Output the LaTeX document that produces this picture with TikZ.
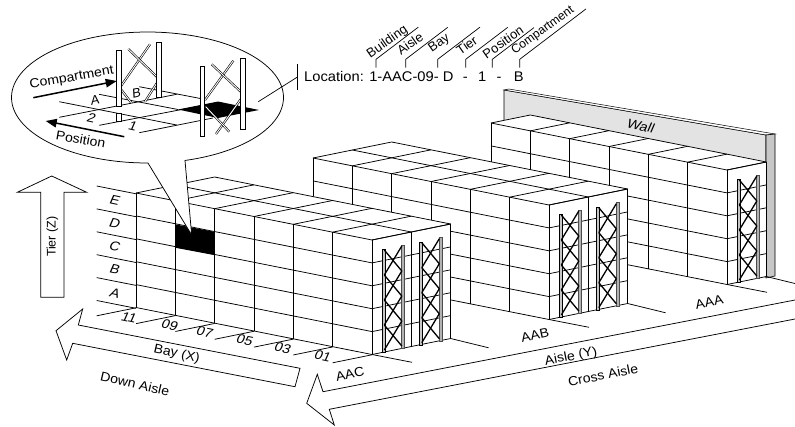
\documentclass[tikz,border=0pt]{standalone}
\usepackage{fontspec}
\setmainfont{Liberation Sans}
\usetikzlibrary{arrows.meta}
\newcommand\fs[1]{\fontsize{#1}{#1}\selectfont}
\tikzset{
  ln/.style={line width=0.75pt,black},
  lbl/.style={inner sep=0pt,font=\fs{13}},
  lean/.style={inner sep=0pt,font=\fs{13},rotate=-12,xslant=.2,xscale=1.1},
  ground/.style={inner sep=0pt,font=\fs{13},rotate=#1,xscale=1.08},
  brace/.style={line width=1.3pt,black},
  dbl/.style={line width=0.6pt,double=white,double distance=0.9pt},
  uprightL/.style={fill=gray!45,draw=black,line width=0.4pt},
  uprightR/.style={fill=gray!60,draw=black!70,line width=0.3pt},
  bigarrow/.style={draw=black,line width=0.75pt,fill=white,line join=miter},
  thickarrow/.style={line width=1.5pt,-{Triangle[length=11pt,width=8.5pt]}},
  post/.style={fill=white,draw=black,line width=0.6pt},
  hook/.style={line width=0.7pt},
}
% block of racks: offset x, offset y, depth
\newcommand\rackblock[3]{%
\begin{scope}[shift={(#1,#2)}]
  \fill[white] (136,193)--(136,308)--(372,354.5)--({372+39.33*#3},{354.5-8*#3})--({372+39.33*#3},{240-8*#3})--({136+39.33*#3},{193-8*#3})--cycle;
  \foreach \k in {0,...,5}{
    \draw[ln] (136,{193+22.9*\k})--(372,{240+22.9*\k});
    \draw[ln] (372,{240+22.9*\k})--({372+39.33*#3},{240+22.9*\k-8*#3});
  }
  \foreach \i in {0,...,6}{
    \draw[ln] ({136+39.33*\i},{193+7.83*\i})--({136+39.33*\i},{307.5+7.83*\i});
    \draw[ln] ({136+39.33*\i},{193+7.83*\i})--({136+39.33*\i+39.33*#3},{193+7.83*\i-8*#3});
  }
  \foreach \d in {1,...,#3}{
    \draw[ln] ({136+39.33*\d},{193-8*\d})--({372+39.33*\d},{240-8*\d});
    \draw[ln] ({372+39.33*\d},{240-8*\d})--({372+39.33*\d},{354.5-8*\d});
  }
  \draw[ln] (372,354.5)--(412,362.3);
  \draw[ln] ({372+39.33*#3},{354.5-8*#3})--({412+39.33*#3-2},{362.3-8*#3+1.5});
\end{scope}}
% rack frame at upper left point
\newcommand\frameX[2]{%
\begin{scope}[shift={(#1,#2)}]
  \fill[uprightL] (-1.6,0.3) rectangle (1.6,103);
  \fill[uprightR] (18,-4.3) rectangle (21,99);
  \foreach \j in {0,...,3}{
    \draw[brace] (1,{1+25*\j})--(18.5,{-3+25*(\j+1)});
    \draw[brace] (18.5,{-3+25*\j})--(1,{1+25*(\j+1)});
  }
\end{scope}}
\begin{document}
\begin{tikzpicture}[x=1pt,y=-1pt,line cap=butt]
\useasboundingbox[fill=white] (0,0) rectangle (795,426);

% wall
\draw[fill=black!11,line width=0.6pt] (504,90)--(766,135)--(766,277)--(504,232)--cycle;
\draw[fill=white,line width=0.5pt] (504,90)--(509,89)--(775,134)--(766,135)--cycle;
\draw[fill=black!22,line width=0.6pt] (766,135)--(775,134)--(775,276)--(766,278)--cycle;
\node[lean] (wall) at (641,126) {Wall};

% racks
\rackblock{355}{-70}{1}
\frameX{738.3}{179}
\rackblock{177}{-35}{2}
\frameX{560.3}{214}
\frameX{597.8}{206.7}
\rackblock{0}{0}{2}
\frameX{383.3}{249}
\frameX{420.8}{241.7}

% extensions of rack AAC
\foreach \k in {0,...,5}
  \draw[ln] (96.7,{186+22.9*\k})--(136,{193.8+22.9*\k});
\foreach \i in {0,...,6}
  \draw[ln] ({136+39.33*\i},{307.8+7.83*\i})--({96.7+39.33*\i},{315.8+7.83*\i});
% selected compartment
\fill[black] (175,224.3)--(214,231.7)--(214,255)--(175,247.7)--cycle;

% big arrows
\draw[bigarrow] (51.7,176)--(86.7,192.3)--(64,192.3)--(64,297.3)--(40.7,297.3)--(40.7,192.3)--(17.3,192.3)--cycle;
\node[lbl,rotate=90,font=\fs{12.5}] (tierz) at (52.3,236.7) {Tier (Z)};
\draw[bigarrow] (56,330.7)--(82.7,309)--(78.3,325)--(300,368.3)--(295,386.7)--(72.7,343.3)--(66.7,360)--cycle;
\node[ground=-13] (bayx) at (176.7,354) {Bay (X)};
\node[ground=-13] (downaisle) at (135,384) {Down Aisle};
\draw[line width=0.75pt,line join=miter] (795,300)--(323,391.7)--(317.3,374.3)--(306.7,403.3)--(334.3,425)--(329.3,409.3)--(795,319);
\node[ground=11] (aisley) at (571,357) {Aisle (Y)};
\node[ground=11] (crossaisle) at (603,375) {Cross Aisle};
\node[ground=12] (aac) at (350,374) {AAC};
\node[ground=12] (aab) at (535,335) {AAB};
\node[ground=12] (aaa) at (709.3,302) {AAA};

% tier and bay labels
\node[lean] (tE) at (115,200.7) {E};
\node[lean] (tD) at (115,223) {D};
\node[lean] (tC) at (115,246.7) {C};
\node[lean] (tB) at (115,269) {B};
\node[lean] (tA) at (115,293) {A};
\foreach \t/\x/\y in {11/129.3/317.7,09/170/325,07/205/332,05/245/340,03/283/348,01/323/356}
  \node[lean] (bay\t) at (\x,\y) {\t};

% callout
\draw[fill=white,line width=0.75pt,line join=miter] plot[domain=74:-270.2,samples=140] ({147.5+136*cos(\x)},{97.5+65.5*sin(\x)}) -- (191.7,235) -- cycle;
\fill[black] (178,109.5)--(218,101.5)--(259,110)--(218,118)--cycle;
\draw[ln] (59.3,101.7)--(176.7,125);
\draw[ln] (99,94.3)--(178,109.5);
\draw[ln] (139.3,86.7)--(203,99);
\draw[ln] (59.3,117.3)--(176.7,94.3);
\draw[ln] (99.3,125.3)--(200,106);
\draw[ln] (139.3,132.7)--(213,118);
% callout frames
\draw[dbl] (121,86)--(150,44.3);
\draw[dbl] (128.3,49)--(157.3,77.3);
\draw[dbl] (121.5,90)--(131.7,103.3);
\draw[dbl] (145,101.7)--(156.7,83.3);
\draw[post] (116.7,50.7) rectangle (121,106);
\draw[post] (116.7,113.5) rectangle (121,121.7);
\draw[post] (156.7,42.3) rectangle (161.3,97.7);
\draw[dbl] (205,100)--(233.3,60.7);
\draw[dbl] (211.7,64.3)--(240.7,91.7);
\draw[dbl] (216,134)--(240.7,99.3);
\draw[dbl] (205.7,106.7)--(229.3,131.7);
\draw[post] (200,66) rectangle (204.7,136.7);
\draw[post] (240.7,58) rectangle (245,129.3);
% callout labels
\coordinate (cmpA) at (33.3,97.7); \coordinate (cmpB) at (116.7,81);
\coordinate (posA) at (124.3,136.7); \coordinate (posB) at (45.7,121);
\draw[thickarrow] (cmpA)--(cmpB);
\draw[thickarrow] (posA)--(posB);
\node[ground=10] (compartment) at (71.7,78) {Compartment};
\node[ground=-10] (position) at (80.7,139.3) {Position};
\node[lbl,rotate=12,xslant=.15] (cA) at (95,100) {A};
\node[lbl,rotate=12,xslant=.15] (cB) at (136.7,93.3) {B};
\node[lean] (c2) at (91.7,118.3) {2};
\node[lean] (c1) at (133,126) {1};

% leader
\coordinate (leadA) at (258.3,101.7); \coordinate (leadB) at (297,77.3);
\draw[line width=0.7pt] (leadA)--(leadB);
\draw[line width=0.7pt] (297,64.3)--(297,90);

% location
\node[inner sep=0pt,anchor=base west,font=\fs{14},xscale=1.05] (loc) at (304,81) {Location: 1-AAC-09- D\hspace{5pt} - \hspace{6pt}1\hspace{6pt} - \hspace{8pt}B};
\foreach \nm/\x/\ex in {Building/376/418.3,Aisle/405.7/447.7,Bay/437.7/480,Tier/465.7/507.7,Position/492.3/534,Compartment/519.7/586}
  \draw[hook] (\x,67.7)--(\x,59.3)--(\ex,{59.3-(\ex-\x)*0.76});
\node[lbl,rotate=35] (nBuilding) at (387.5,42) {Building};
\node[lbl,rotate=35] (nAisle) at (410,43.5) {Aisle};
\node[lbl,rotate=35] (nBay) at (439.3,43.5) {Bay};
\node[lbl,rotate=35] (nTier) at (466.7,45) {Tier};
\node[lbl,rotate=35] (nPosition) at (503,42) {Position};
\node[inner sep=0pt,rotate=36,font=\fs{12.2}] (nCompartment) at (543,30.5) {Compartment};
\end{tikzpicture}
\end{document}
